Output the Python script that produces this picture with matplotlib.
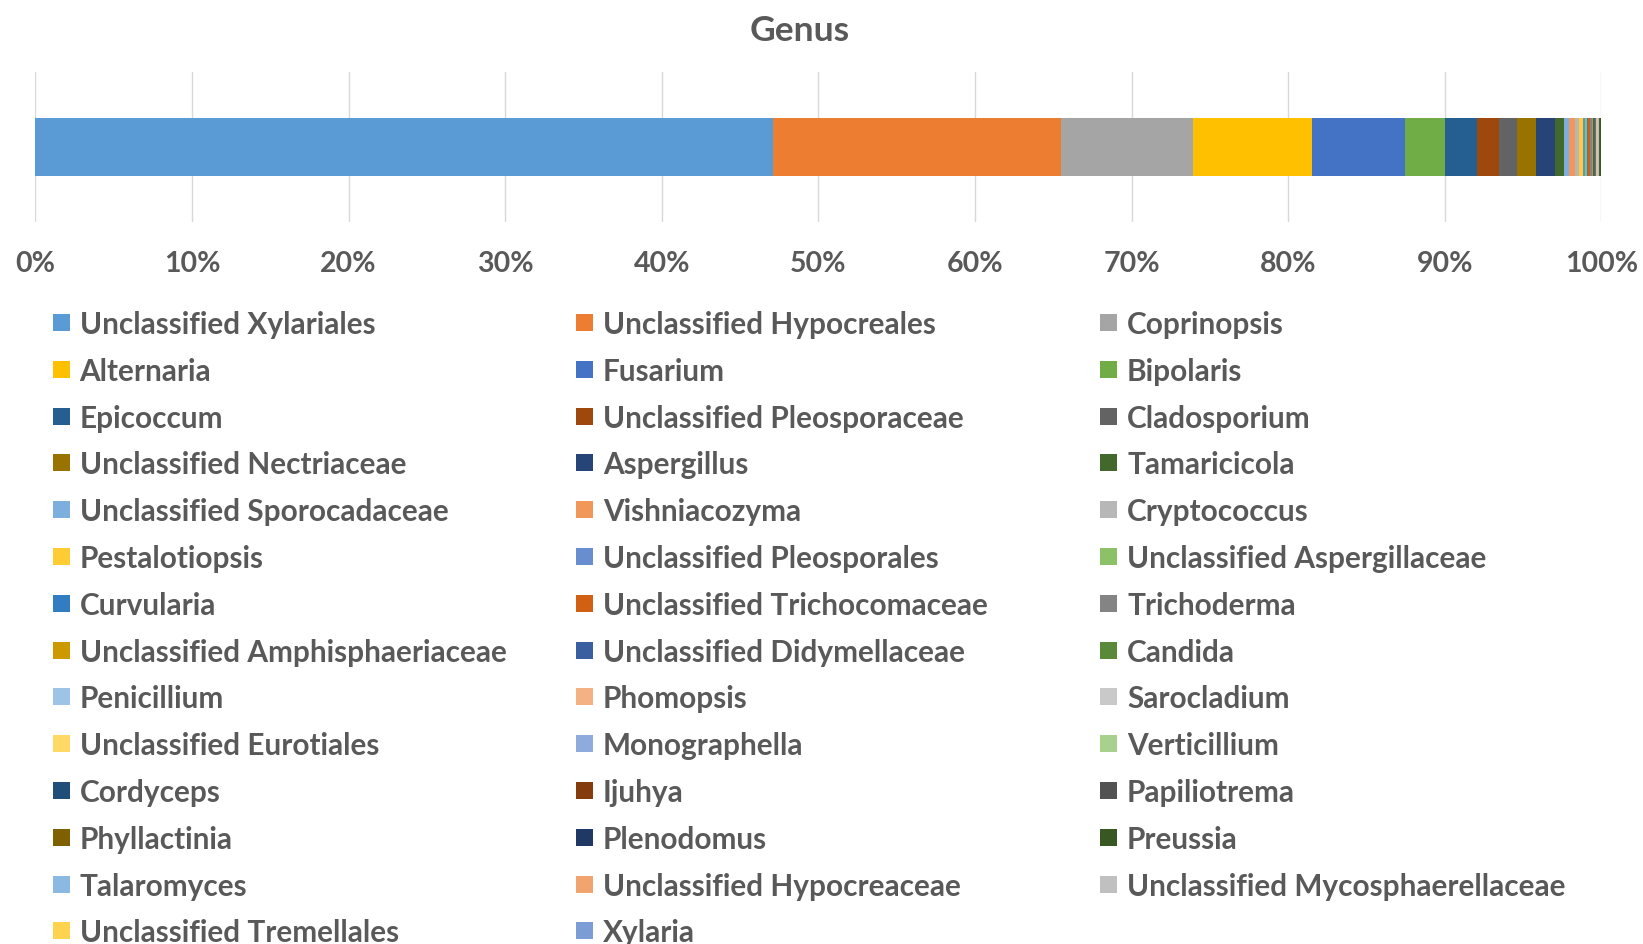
import numpy as np
import matplotlib.pyplot as plt
from matplotlib.patches import Rectangle

# Data (percent of reads, genus level)
genera = [
    "Unclassified Xylariales", "Unclassified Hypocreales", "Coprinopsis",
    "Alternaria", "Fusarium", "Bipolaris",
    "Epicoccum", "Unclassified Pleosporaceae", "Cladosporium",
    "Unclassified Nectriaceae", "Aspergillus", "Tamaricicola",
    "Unclassified Sporocadaceae", "Vishniacozyma", "Cryptococcus",
    "Pestalotiopsis", "Unclassified Pleosporales", "Unclassified Aspergillaceae",
    "Curvularia", "Unclassified Trichocomaceae", "Trichoderma",
    "Unclassified Amphisphaeriaceae", "Unclassified Didymellaceae", "Candida",
    "Penicillium", "Phomopsis", "Sarocladium",
    "Unclassified Eurotiales", "Monographella", "Verticillium",
    "Cordyceps", "Ijuhya", "Papiliotrema",
    "Phyllactinia", "Plenodomus", "Preussia",
    "Talaromyces", "Unclassified Hypocreaceae", "Unclassified Mycosphaerellaceae",
    "Unclassified Tremellales", "Xylaria",
]
abundance = [
    47.1, 18.4, 8.44,
    7.59, 5.98, 2.55,
    2.04, 1.38, 1.17,
    1.21, 1.19, 0.60,
    0.32, 0.36, 0.25,
    0.26, 0.13, 0.12,
    0.12, 0.11, 0.10,
    0.10, 0.09, 0.07,
    0.04, 0.04, 0.03,
    0.03, 0.03, 0.02,
    0.02, 0.02, 0.02,
    0.02, 0.02, 0.01,
    0.01, 0.01, 0.01,
    0.01, 0.01,
]

# Excel Office theme series colours
colors = [
    "#5B9BD5", "#ED7D31", "#A5A5A5", "#FFC000", "#4472C4", "#70AD47",
    "#255E91", "#9E480E", "#636363", "#997300", "#264478", "#43682B",
    "#7CAFDD", "#F1975A", "#B7B7B7", "#FFCD33", "#698ED0", "#8CC168",
    "#327DC2", "#D26012", "#848484", "#CC9A00", "#3A5FA0", "#5A8A39",
    "#9DC3E6", "#F4B183", "#C9C9C9", "#FFD966", "#8FAADC", "#A9D18E",
    "#1F4E79", "#843C0C", "#525252", "#7F6000", "#203864", "#385723",
    "#8CB9E2", "#F2A46F", "#C0C0C0", "#FFD34D", "#7C9CD5",
]

TXT = "#595959"
plt.rcParams['font.family'] = ['Lato', 'DejaVu Sans']

W, H = 1643, 944
fig = plt.figure(figsize=(W / 100, H / 100), dpi=100)
ax = fig.add_axes([35.3 / W, 1 - 222 / H, 1566 / W, 150 / H])

vals = np.array(abundance)
vals = vals / vals.sum() * 100
left = np.concatenate([[0], np.cumsum(vals)[:-1]])
for i in range(len(vals)):
    ax.barh(0, vals[i], left=left[i], height=0.39, color=colors[i],
            edgecolor="none", zorder=3)

ax.set_xlim(0, 100)
ax.set_ylim(-0.5, 0.5)
ax.set_xticks(np.arange(0, 101, 10))
ax.set_xticklabels([f"{t}%" for t in range(0, 101, 10)])
ax.set_yticks([])
ax.tick_params(axis="x", length=0, pad=21, labelsize=20.5, labelcolor=TXT)
for lab in ax.get_xticklabels():
    lab.set_fontweight("bold")
ax.grid(axis="x", color="#D9D9D9", linewidth=1, zorder=0)
for s in ax.spines.values():
    s.set_visible(False)

fig.text(800 / W, 1 - 31 / H, "Genus", ha="center", va="center",
         fontsize=25.5, fontweight="bold", color=TXT)

# Legend (Excel style, row-wise fill, 3 fixed-width columns)
col_x = [52.5, 576, 1100]
row_y0, row_dy = 322.5, 46.8
sq = 17
for i, name in enumerate(genera):
    r, c = divmod(i, 3)
    yc = row_y0 + r * row_dy
    fig.patches.append(Rectangle((col_x[c] / W, 1 - (yc + sq / 2) / H), sq / W, sq / H,
                                 transform=fig.transFigure, facecolor=colors[i],
                                 edgecolor="none"))
    fig.text((col_x[c] + 27) / W, 1 - yc / H, name, ha="left", va="center_baseline",
             fontsize=21.4, fontweight="bold", color=TXT)

fig.savefig("out.png", dpi=100)
